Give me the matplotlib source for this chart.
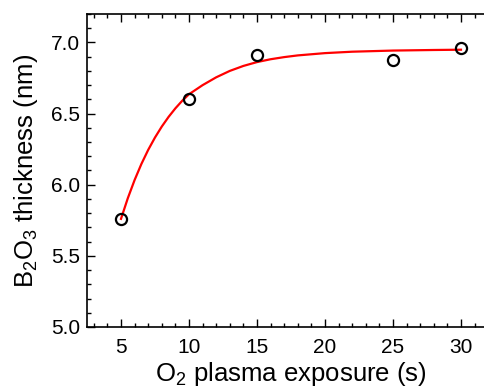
import matplotlib
matplotlib.use("Agg")
import matplotlib.pyplot as plt
from matplotlib.ticker import MultipleLocator

# Measured data
exposure = [5, 10, 15, 25, 30]
thickness = [5.76, 6.60, 6.91, 6.88, 6.96]

# Fit curve
fit_t = [5, 5.5, 6, 6.5, 7, 7.5, 8, 8.5, 9, 9.5, 10, 11, 12, 13, 14, 15, 16,
         17, 18, 20, 22, 25, 28, 30]
fit_y = [5.76, 5.905, 6.033, 6.146, 6.245, 6.332, 6.409, 6.477, 6.537, 6.590,
         6.636, 6.700, 6.755, 6.800, 6.835, 6.862, 6.882, 6.897, 6.909,
         6.925, 6.935, 6.943, 6.947, 6.949]

xticks = [5, 10, 15, 20, 25, 30]
yticks = [5.0, 5.5, 6.0, 6.5, 7.0]

plt.rcParams['font.family'] = ['Liberation Sans', 'DejaVu Sans']
plt.rcParams['mathtext.default'] = 'regular'

fig = plt.figure(figsize=(4.85, 3.90), dpi=100)
ax = fig.add_axes([87/485, 63/390, 408/485, 313/390])

ax.plot(fit_t, fit_y, color='red', lw=1.6, zorder=2)
ax.plot(exposure, thickness, 'o', mfc='none', mec='black', mew=1.6, ms=8, zorder=3)

ax.set_xlim(2.5, 32.5)
ax.set_ylim(5.0, 7.2)
ax.set_xticks(xticks)
ax.set_yticks(yticks)
ax.set_yticklabels([f"{v:.1f}" for v in yticks])
ax.xaxis.set_minor_locator(MultipleLocator(1))
ax.yaxis.set_minor_locator(MultipleLocator(0.1))
ax.tick_params(which='both', direction='in', top=True, right=True, labelsize=15, width=1)
ax.tick_params(which='major', length=6)
ax.tick_params(axis='x', which='major', pad=8)
ax.tick_params(axis='y', which='major', pad=5)
ax.tick_params(which='minor', length=3)
for s in ax.spines.values():
    s.set_linewidth(1.2)

ax.set_xlabel(r'O$_2$ plasma exposure (s)', fontsize=18.5, labelpad=2)
ax.set_ylabel(r'B$_2$O$_3$ thickness (nm)', fontsize=18.5, labelpad=8)

fig.savefig('out.png', dpi=100)
